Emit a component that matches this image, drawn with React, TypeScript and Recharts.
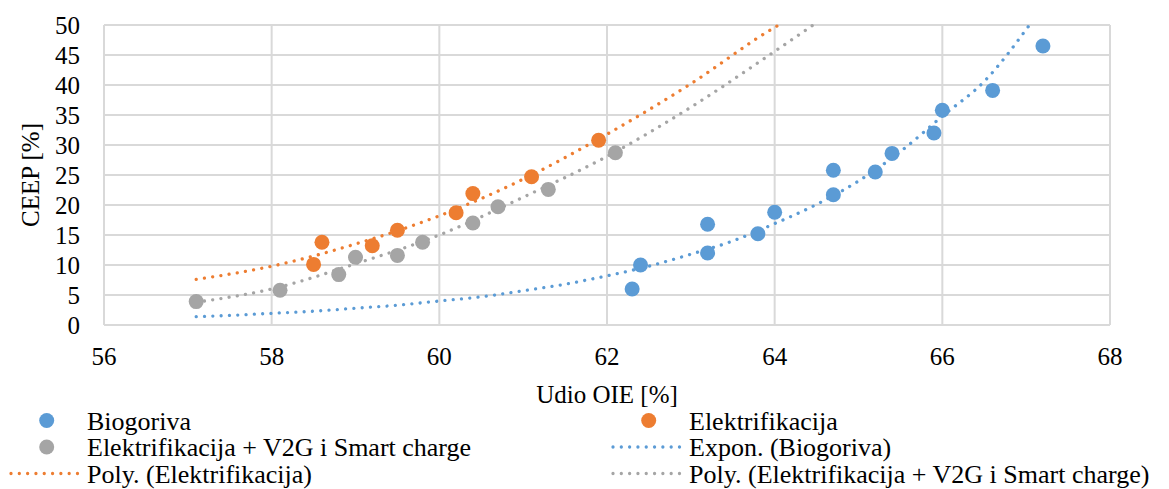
import { ComposedChart, Scatter, Line, XAxis, YAxis, CartesianGrid } from "recharts"

// scatter points
const biogorivaX = [62.3, 62.4, 63.2, 63.2, 63.8, 64.0, 64.7, 64.7, 65.2, 65.4, 65.9, 66.0, 66.6, 67.2]
const biogorivaY = [6.0, 10.0, 16.8, 12.0, 15.2, 18.8, 25.8, 21.7, 25.5, 28.6, 32.0, 35.8, 39.1, 46.5]

const elektrX = [58.5, 58.6, 59.2, 59.5, 60.2, 60.4, 61.1, 61.9]
const elektrY = [10.1, 13.8, 13.2, 15.8, 18.7, 21.9, 24.7, 30.8]

const v2gX = [57.1, 58.1, 58.8, 59.0, 59.5, 59.8, 60.4, 60.7, 61.3, 62.1]
const v2gY = [3.9, 5.8, 8.4, 11.3, 11.6, 13.8, 17.0, 19.7, 22.6, 28.7]

// trend lines at a few x positions
const exponX = [57.1, 57.5, 58, 58.5, 59, 59.5, 60, 60.5, 61, 61.5, 62, 62.5, 63, 63.5, 64, 64.5, 65, 65.5, 66, 66.5, 67.04]
const exponY = [1.4, 1.6, 1.95, 2.3, 2.8, 3.3, 4.0, 4.7, 5.7, 6.8, 8.2, 9.8, 11.8, 14.0, 16.9, 20.1, 24.0, 28.9, 34.8, 40.6, 50]

const polyElX = [57.1, 58, 59, 60, 61, 62, 63, 64, 64.05]
const polyElY = [7.6, 9.8, 13.5, 18.2, 24.3, 31.8, 40.2, 49.6, 50]

const polyV2gX = [57.1, 58, 59, 60, 61, 62, 63, 64, 64.46]
const polyV2gY = [3.8, 6.0, 10.2, 15.0, 21.3, 28.1, 36.3, 45.6, 50]

const xTicks = [56, 58, 60, 62, 64, 66, 68]
const yTicks = [0, 5, 10, 15, 20, 25, 30, 35, 40, 45, 50]

const BLUE = "#5B9BD5"
const ORANGE = "#ED7D31"
const GRAY = "#A5A5A5"
const FONT = "'Liberation Serif', 'Times New Roman', serif"

const pts = (xs: number[], ys: number[]) => xs.map((x, i) => ({ x, y: ys[i] }))

const dot = (color: string) => (p: any) => <circle cx={p.cx} cy={p.cy} r={7.5} fill={color} />

const dotted = { strokeWidth: 3.3, strokeDasharray: "0.01 8.3", strokeLinecap: "round" as const }

const legendRows = [
  { col: 0, row: 0, kind: "dot", color: BLUE, text: "Biogoriva" },
  { col: 1, row: 0, kind: "dot", color: ORANGE, text: "Elektrifikacija" },
  { col: 0, row: 1, kind: "dot", color: GRAY, text: "Elektrifikacija + V2G i Smart charge" },
  { col: 1, row: 1, kind: "line", color: BLUE, text: "Expon. (Biogoriva)" },
  { col: 0, row: 2, kind: "line", color: ORANGE, text: "Poly. (Elektrifikacija)" },
  { col: 1, row: 2, kind: "line", color: GRAY, text: "Poly. (Elektrifikacija + V2G i Smart charge)" },
]

function ChartLegend() {
  return (
    <svg width={1169} height={489} style={{ position: "absolute", left: 0, top: 0, pointerEvents: "none" }}>
      {legendRows.map((r) => {
        const ox = r.col * 602
        const base = 429.5 + r.row * 26.5
        const mid = base - 9
        return (
          <g key={r.text}>
            {r.kind === "dot" ? (
              <circle cx={ox + 46.7} cy={mid} r={7.5} fill={r.color} />
            ) : (
              <line x1={ox + 11} x2={ox + 80} y1={mid} y2={mid} stroke={r.color} {...dotted} />
            )}
            <text x={ox + 87} y={base} fontSize={26} fontFamily={FONT} fill="#000">
              {r.text}
            </text>
          </g>
        )
      })}
    </svg>
  )
}

export default function App() {
  return (
    <div style={{ position: "absolute", left: 0, top: 0, width: 1169, height: 489, background: "#fff" }}>
      <ComposedChart width={1169} height={489} margin={{ top: 25, right: 59, left: 0, bottom: 84 }}>
        <CartesianGrid stroke="#d9d9d9" strokeWidth={2} />
        <XAxis
          type="number"
          dataKey="x"
          domain={[56, 68]}
          ticks={xTicks}
          interval={0}
          height={80}
          tickSize={0}
          tickMargin={22}
          axisLine={{ stroke: "#d9d9d9", strokeWidth: 2 }}
          tick={{ fill: "#000", fontSize: 25, fontFamily: FONT }}
          label={(props: any) => {
            const vb = props.viewBox
            return (
              <text x={vb.x + vb.width / 2} y={vb.y + 78} textAnchor="middle" fontSize={25} fontFamily={FONT} fill="#000">
                Udio OIE [%]
              </text>
            )
          }}
        />
        <YAxis
          type="number"
          dataKey="y"
          domain={[0, 50]}
          ticks={yTicks}
          interval={0}
          width={104}
          tickSize={0}
          tickMargin={24}
          axisLine={{ stroke: "#d9d9d9", strokeWidth: 2 }}
          tick={{ fill: "#000", fontSize: 25, fontFamily: FONT }}
          label={(props: any) => {
            const vb = props.viewBox
            const cx = vb.x + 39
            const cy = vb.y + vb.height / 2
            return (
              <text x={cx} y={cy} transform={`rotate(-90 ${cx} ${cy})`} textAnchor="middle" fontSize={25} fontFamily={FONT} fill="#000">
                CEEP [%]
              </text>
            )
          }}
        />
        <Scatter name="Biogoriva" data={pts(biogorivaX, biogorivaY)} shape={dot(BLUE)} isAnimationActive={false} />
        <Scatter name="Elektrifikacija" data={pts(elektrX, elektrY)} shape={dot(ORANGE)} isAnimationActive={false} />
        <Scatter name="Elektrifikacija + V2G i Smart charge" data={pts(v2gX, v2gY)} shape={dot(GRAY)} isAnimationActive={false} />
        <Line data={pts(exponX, exponY)} dataKey="y" type="monotone" stroke={BLUE} dot={false} activeDot={false} {...dotted} isAnimationActive={false} />
        <Line data={pts(polyElX, polyElY)} dataKey="y" type="monotone" stroke={ORANGE} dot={false} activeDot={false} {...dotted} isAnimationActive={false} />
        <Line data={pts(polyV2gX, polyV2gY)} dataKey="y" type="monotone" stroke={GRAY} dot={false} activeDot={false} {...dotted} isAnimationActive={false} />
      </ComposedChart>
      <ChartLegend />
    </div>
  )
}
